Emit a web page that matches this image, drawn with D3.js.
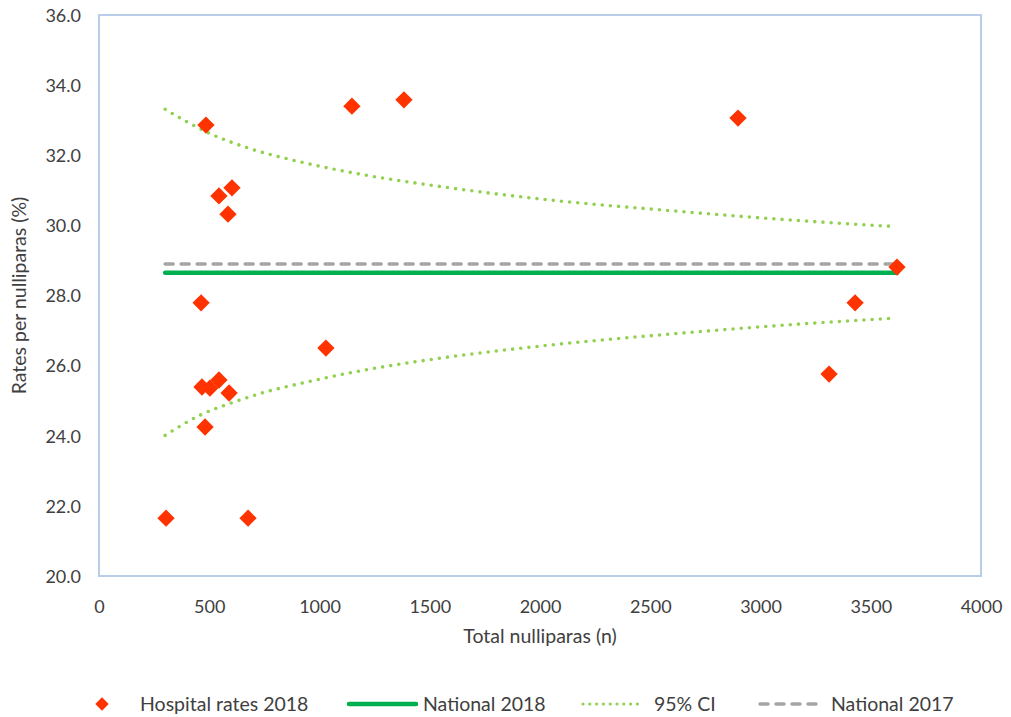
<!DOCTYPE html>
<html>
<head>
<meta charset="utf-8">
<script src="https://cdn.jsdelivr.net/npm/d3@7"></script>
<style>
  html, body { margin: 0; padding: 0; background: #fff; }
  svg { display: block; font-family: Lato, "Open Sans", sans-serif; }
</style>
</head>
<body>
<svg id="chart" width="1011" height="717"></svg>
<script>
// Hospital-level caesarean rates among nulliparas, 2018
const hospitalN    = [304, 676, 485, 1147, 1383, 2898, 544, 603, 585, 463, 1029, 481, 467, 503, 544, 590, 3619, 3429, 3311];
const hospitalRate = [21.65, 21.65, 32.86, 33.40, 33.58, 33.06, 30.84, 31.07, 30.32, 27.79, 26.50, 24.25, 25.39, 25.36, 25.59, 25.22, 28.81, 27.79, 25.76];

// National reference rates
const national2018 = 28.65;
const national2017 = 28.90;
const nationalSpan = [300, 3620];

// 95% control limits (funnel)
const ciUpperN    = [300, 499, 674, 927, 1184, 1478, 2035, 2590, 3075, 3600];
const ciUpperRate = [33.31, 32.63, 32.21, 31.79, 31.46, 31.17, 30.73, 30.42, 30.18, 29.97];
const ciLowerN    = [300, 463, 603, 745, 927, 1184, 1478, 2035, 2590, 3075, 3600];
const ciLowerRate = [24.01, 24.60, 24.94, 25.23, 25.51, 25.85, 26.15, 26.58, 26.90, 27.14, 27.35];

// Axis ticks
const xTicks = [0, 500, 1000, 1500, 2000, 2500, 3000, 3500, 4000];
const yTicks = [20, 22, 24, 26, 28, 30, 32, 34, 36];

const legendLabels = ["Hospital rates 2018", "National 2018", "95% CI", "National 2017"];

const colors = {
  hospital: "#FF3300",
  nat18: "#00B050",
  ci: "#92D050",
  nat17: "#A5A5A5",
  frame: "#B9CDE8",
  text: "#404040"
};

const svg = d3.select("#chart");
const plot = { left: 99, top: 15, right: 981, bottom: 576 };

const x = d3.scaleLinear().domain([0, 4000]).range([plot.left, plot.right]);
const y = d3.scaleLinear().domain([20, 36]).range([plot.bottom, plot.top]);

// Plot frame
svg.append("rect")
  .attr("x", plot.left).attr("y", plot.top)
  .attr("width", plot.right - plot.left).attr("height", plot.bottom - plot.top)
  .attr("fill", "none").attr("stroke", colors.frame).attr("stroke-width", 2);

// Axes (labels only, no tick marks or domain line)
const xAxis = d3.axisBottom(x).tickValues(xTicks).tickFormat(d3.format("d")).tickSize(0).tickPadding(0);
const yAxis = d3.axisLeft(y).tickValues(yTicks).tickFormat(d3.format(".1f")).tickSize(0).tickPadding(0);

const gx = svg.append("g").attr("transform", `translate(0, ${plot.bottom + 37})`).call(xAxis);
const gy = svg.append("g").attr("transform", `translate(${plot.left - 18}, 0)`).call(yAxis);
[gx, gy].forEach(g => {
  g.select(".domain").remove();
  g.selectAll("text").attr("fill", colors.text).style("font-size", "18px").style("font-family", "Lato, sans-serif");
});
gx.selectAll("text").attr("dy", "0");
gy.selectAll("text").attr("dy", "0.35em");

// Axis titles
svg.append("text")
  .attr("x", (plot.left + plot.right) / 2).attr("y", 643)
  .attr("text-anchor", "middle").attr("fill", colors.text)
  .style("font-size", "19.5px").text("Total nulliparas (n)");

svg.append("text")
  .attr("transform", `translate(26, ${(plot.top + plot.bottom) / 2}) rotate(-90)`)
  .attr("text-anchor", "middle").attr("fill", colors.text)
  .style("font-size", "19.5px").text("Rates per nulliparas (%)");

// National reference lines
svg.append("line")
  .attr("x1", x(nationalSpan[0])).attr("x2", x(nationalSpan[1]))
  .attr("y1", y(national2017)).attr("y2", y(national2017))
  .attr("stroke", colors.nat17).attr("stroke-width", 3.5)
  .attr("stroke-dasharray", "8 8").attr("stroke-linecap", "round");

svg.append("line")
  .attr("x1", x(nationalSpan[0])).attr("x2", x(nationalSpan[1]))
  .attr("y1", y(national2018)).attr("y2", y(national2018))
  .attr("stroke", colors.nat18).attr("stroke-width", 4.5)
  .attr("stroke-linecap", "round");

// Control limits
const ciLine = d3.line().x(d => x(d[0])).y(d => y(d[1])).curve(d3.curveMonotoneX);
[[ciUpperN, ciUpperRate], [ciLowerN, ciLowerRate]].forEach(([ns, rs]) => {
  svg.append("path")
    .datum(ns.map((n, i) => [n, rs[i]]))
    .attr("d", ciLine)
    .attr("fill", "none").attr("stroke", colors.ci).attr("stroke-width", 3.6)
    .attr("stroke-dasharray", "0 8.2").attr("stroke-linecap", "round");
});

// Hospital points
const diamond = d3.symbol().type(d3.symbolSquare).size(150);
svg.append("g").selectAll("path")
  .data(hospitalN.map((n, i) => [n, hospitalRate[i]]))
  .join("path")
  .attr("d", diamond)
  .attr("transform", d => `translate(${x(d[0])}, ${y(d[1])}) rotate(45)`)
  .attr("fill", colors.hospital);

// Legend
const legY = 704;
const leg = svg.append("g").style("font-size", "19.5px").attr("fill", colors.text);

leg.append("path").attr("d", d3.symbol().type(d3.symbolSquare).size(90))
  .attr("transform", `translate(102, ${legY}) rotate(45)`).attr("fill", colors.hospital);
leg.append("text").attr("x", 140).attr("y", legY).attr("dy", "0.35em").text(legendLabels[0]);

leg.append("line").attr("x1", 349).attr("x2", 416).attr("y1", legY).attr("y2", legY)
  .attr("stroke", colors.nat18).attr("stroke-width", 4.5).attr("stroke-linecap", "round");
leg.append("text").attr("x", 423).attr("y", legY).attr("dy", "0.35em").text(legendLabels[1]);

leg.append("line").attr("x1", 583).attr("x2", 644).attr("y1", legY).attr("y2", legY)
  .attr("stroke", colors.ci).attr("stroke-width", 3.2)
  .attr("stroke-dasharray", "0 6.8").attr("stroke-linecap", "round");
leg.append("text").attr("x", 654).attr("y", legY).attr("dy", "0.35em").text(legendLabels[2]);

leg.append("line").attr("x1", 760).attr("x2", 822).attr("y1", legY).attr("y2", legY)
  .attr("stroke", colors.nat17).attr("stroke-width", 3.5)
  .attr("stroke-dasharray", "8 8").attr("stroke-linecap", "round");
leg.append("text").attr("x", 831).attr("y", legY).attr("dy", "0.35em").text(legendLabels[3]);
</script>
</body>
</html>
